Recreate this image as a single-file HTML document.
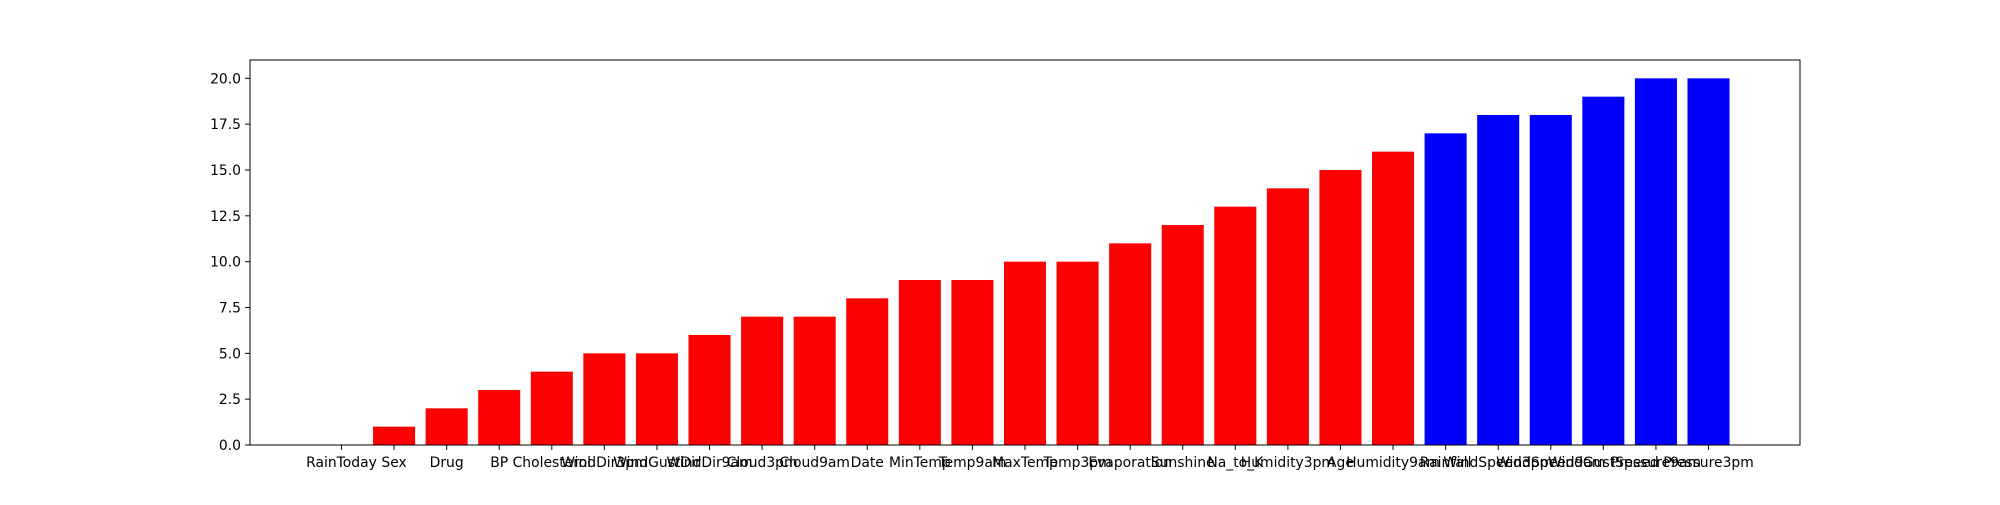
<!DOCTYPE html>
<html><head><meta charset="utf-8"><style>
html,body{margin:0;padding:0;background:#fff;}
svg text{font-family:"DejaVu Sans","Liberation Sans",sans-serif;font-size:13.9px;fill:#000;}
</style></head><body>
<svg id="chart" width="2000" height="500" xmlns="http://www.w3.org/2000/svg">
<rect width="2000" height="500" fill="#fff"/>
<g id="bars"></g>
<g id="xticks"></g>
<g id="yticks"></g>
<rect x="250" y="60" width="1550" height="385" fill="none" stroke="#000" stroke-width="1"/>
</svg>
<script>
const categories=["RainToday","Sex","Drug","BP","Cholesterol","WindDir3pm","WindGustDir","WindDir9am","Cloud3pm","Cloud9am","Date","MinTemp","Temp9am","MaxTemp","Temp3pm","Evaporation","Sunshine","Na_to_K","Humidity3pm","Age","Humidity9am","Rainfall","WindSpeed3pm","WindSpeed9am","WindGustSpeed","Pressure9am","Pressure3pm"];
const values=[0,1,2,3,4,5,5,6,7,7,8,9,9,10,10,11,12,13,14,15,16,17,18,18,19,20,20];
const colors=["red","red","red","red","red","red","red","red","red","red","red","red","red","red","red","red","red","red","red","red","red","blue","blue","blue","blue","blue","blue"];
const yTicks=[0,2.5,5,7.5,10,12.5,15,17.5,20];
const yTickLabels=["0.0","2.5","5.0","7.5","10.0","12.5","15.0","17.5","20.0"];
const NS="http://www.w3.org/2000/svg";
const L=250,R=1800,T=60,B=445;
const n=categories.length;
const xmin=-0.4-(n-0.2)*0.05, xmax=n-1+0.4+(n-0.2)*0.05;
const ymax=Math.max(...values)*1.05;
const x=v=>L+(v-xmin)/(xmax-xmin)*(R-L);
const y=v=>B-v/ymax*(B-T);
const gb=document.getElementById('bars'),gx=document.getElementById('xticks'),gy=document.getElementById('yticks');
function mk(t,a){const e=document.createElementNS(NS,t);for(const k in a)e.setAttribute(k,a[k]);return e;}
values.forEach((v,i)=>{
 const r=mk('rect',{x:x(i-0.4),y:y(v),width:x(i+0.4)-x(i-0.4),height:B-y(v),fill:colors[i]});
 
 
 gb.appendChild(r);
 const tk=mk('line',{x1:x(i),x2:x(i),y1:B,y2:B+4.9,stroke:'#000','stroke-width':1});
 
 
 gx.appendChild(tk);
 const tx=mk('text',{x:x(i),y:B+22,'text-anchor':'middle'});
 
 
 tx.textContent=categories[i];gx.appendChild(tx);
});
yTicks.forEach((v,i)=>{
 const tk=mk('line',{x1:L-4.9,x2:L,y1:y(v),y2:y(v),stroke:'#000','stroke-width':1});
 
 
 gy.appendChild(tk);
 const tx=mk('text',{x:L-9,y:y(v)+5,'text-anchor':'end'});
 
 
 tx.textContent=yTickLabels[i];gy.appendChild(tx);
});
</script>
</body></html>
